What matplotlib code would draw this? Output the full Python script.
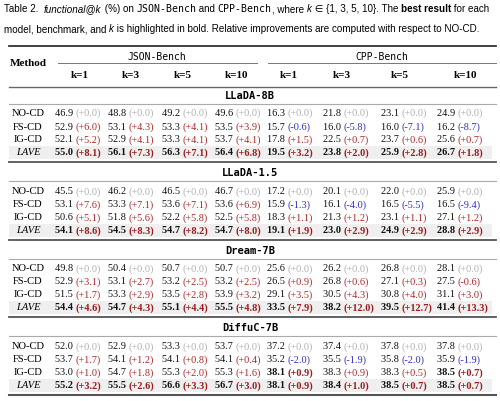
import matplotlib
matplotlib.use("Agg")
import matplotlib.pyplot as plt

# table values
models = ["LLaDA-8B", "LLaDA-1.5", "Dream-7B", "DiffuC-7B"]
methods = ["NO-CD", "FS-CD", "IG-CD", "LAVE"]
k_labels = ["k=1", "k=3", "k=5", "k=10", "k=1", "k=3", "k=5", "k=10"]

scores = {
    "LLaDA-8B": [[46.9, 48.8, 49.2, 49.6, 16.3, 21.8, 23.1, 24.9],
                 [52.9, 53.1, 53.3, 53.5, 15.7, 16.0, 16.0, 16.2],
                 [52.1, 52.9, 53.3, 53.7, 17.8, 22.5, 23.7, 25.6],
                 [55.0, 56.1, 56.3, 56.4, 19.5, 23.8, 25.9, 26.7]],
    "LLaDA-1.5": [[45.5, 46.2, 46.5, 46.7, 17.2, 20.1, 22.0, 25.9],
                  [53.1, 53.3, 53.6, 53.6, 15.9, 16.1, 16.5, 16.5],
                  [50.6, 51.8, 52.2, 52.5, 18.3, 21.3, 23.1, 27.1],
                  [54.1, 54.5, 54.7, 54.7, 19.1, 23.0, 24.9, 28.8]],
    "Dream-7B": [[49.8, 50.4, 50.7, 50.7, 25.6, 26.2, 26.8, 28.1],
                 [52.9, 53.1, 53.2, 53.2, 26.5, 26.8, 27.1, 27.5],
                 [51.5, 53.3, 53.5, 53.9, 29.1, 30.5, 30.8, 31.1],
                 [54.4, 54.7, 55.1, 55.5, 33.5, 38.2, 39.5, 41.4]],
    "DiffuC-7B": [[52.0, 52.9, 53.3, 53.7, 37.2, 37.4, 37.8, 37.8],
                  [53.7, 54.1, 54.1, 54.1, 35.2, 35.5, 35.8, 35.9],
                  [53.0, 54.7, 55.3, 55.3, 38.1, 38.3, 38.3, 38.5],
                  [55.2, 55.5, 56.6, 56.7, 38.1, 38.4, 38.5, 38.5]],
}
deltas = {
    "LLaDA-8B": [[0.0] * 8,
                 [6.0, 4.3, 4.1, 3.9, -0.6, -5.8, -7.1, -8.7],
                 [5.2, 4.1, 4.1, 4.1, 1.5, 0.7, 0.6, 0.7],
                 [8.1, 7.3, 7.1, 6.8, 3.2, 2.0, 2.8, 1.8]],
    "LLaDA-1.5": [[0.0] * 8,
                  [7.6, 7.1, 7.1, 6.9, -1.3, -4.0, -5.5, -9.4],
                  [5.1, 5.6, 5.8, 5.8, 1.1, 1.2, 1.1, 1.2],
                  [8.6, 8.3, 8.2, 8.0, 1.9, 2.9, 2.9, 2.9]],
    "Dream-7B": [[0.0] * 8,
                 [3.1, 2.7, 2.5, 2.5, 0.9, 0.6, 0.3, -0.6],
                 [1.7, 2.9, 2.8, 3.2, 3.5, 4.3, 4.0, 3.0],
                 [4.6, 4.3, 4.4, 4.8, 7.9, 12.0, 12.7, 13.3]],
    "DiffuC-7B": [[0.0] * 8,
                  [1.7, 1.2, 0.8, 0.4, -2.0, -1.9, -2.0, -1.9],
                  [1.0, 1.8, 2.0, 1.6, 0.9, 0.9, 0.5, 0.7],
                  [3.2, 2.6, 3.3, 3.0, 0.9, 1.0, 0.7, 0.7]],
}
# extra bold cells outside the LAVE rows (model, method index, column)
extra_bold = [("DiffuC-7B", 2, 4), ("DiffuC-7B", 2, 7)]

SERIF = "Liberation Serif"
MONO = "DejaVu Sans Mono"
RED = "#b02828"
DARKRED = "#9a1c1c"
GRAY = "#b0b0b0"
BLUE = "#3030c8"

fig = plt.figure(figsize=(5.0, 4.02), dpi=100)
ax = fig.add_axes([0, 0, 1, 1])
ax.set_xlim(0, 500)
ax.set_ylim(402, 0)
ax.axis("off")
renderer = fig.canvas.get_renderer()


def runs(x, y, pieces, size=7.2):
    # draw text pieces one after another on the same baseline
    for s, kw in pieces:
        t = ax.text(x, y, s, fontsize=size, va="center", ha="left", **kw)
        bb = t.get_window_extent(renderer)
        x += bb.width
    return x


cap = {"family": ["Liberation Sans", "DejaVu Sans"]}
runs(4, 9, [("Table 2.  ", cap), ("functional@k", dict(cap, style="italic")),
            (" (%) on ", cap), ("JSON-Bench", {"family": MONO}), (" and ", cap),
            ("CPP-Bench", {"family": MONO}), (", where ", cap), ("k", dict(cap, style="italic")),
            (" \u2208 {1, 3, 5, 10}. The ", cap), ("best result", dict(cap, weight="bold")),
            (" for each", cap)], size=7.1)
runs(4, 29, [("model, benchmark, and ", cap), ("k", dict(cap, style="italic")),
             (" is highlighted in bold. Relative improvements are computed with respect to NO-CD.", cap)],
     size=7.1)

x0, x1 = 9, 496
ax.plot([x0, x1], [47, 47], color="#333", lw=1.3)
ax.text(28, 63, "Method", family=SERIF, weight="bold", fontsize=8, ha="center", va="center")
ax.text(157, 57, "JSON-Bench", family=MONO, fontsize=7, ha="center", va="center")
ax.text(382, 57, "CPP-Bench", family=MONO, fontsize=7, ha="center", va="center")
ax.plot([58, 257], [64, 64], color="#777", lw=0.7)
ax.plot([268, x1], [64, 64], color="#777", lw=0.7)

num_x = [55, 108, 162, 215, 267, 323, 381, 437]
k_x = [80, 131, 183, 237, 289, 342, 400, 466]
for kx, lab in zip(k_x, k_labels):
    ax.text(kx, 76, lab, family=SERIF, weight="bold", fontsize=8, ha="center", va="center")
ax.plot([x0, x1], [88, 88], color="#666", lw=1.0)

title_y = [96, 173, 251, 328]
row_y = [[113, 127, 140, 153], [192, 205, 218, 231], [269, 282, 295, 308], [347, 360, 373, 386]]
sep_y = [163, 241, 318, 396]

for mi, model in enumerate(models):
    ty = title_y[mi]
    ax.text(250, ty, model, family=MONO, weight="bold", fontsize=7.5, ha="center", va="center")
    ax.plot([x0, x1], [ty + 8.5, ty + 8.5], color="#aaa", lw=0.8)
    for ri, meth in enumerate(methods):
        y = row_y[mi][ri]
        lave = meth == "LAVE"
        if lave:
            ax.fill_between([x0, x1 - 4], y - 6.5, y + 6.5, color="#efefef", lw=0)
        ax.text(28, y, meth, family=SERIF, fontsize=7.6, ha="center", va="center",
                style="italic" if lave else "normal")
        for ci in range(8):
            v = scores[model][ri][ci]
            d = deltas[model][ri][ci]
            bold = lave or (model, ri, ci) in extra_bold
            w = "bold" if bold else "normal"
            if ri == 0:
                col = GRAY
            elif d < 0 and not (model == "Dream-7B"):
                col = BLUE
            else:
                col = DARKRED if bold else RED
            runs(num_x[ci], y, [(f"{v:.1f} ", {"family": SERIF, "weight": w, "color": "#111"}),
                                (f"({d:+.1f})", {"family": SERIF, "weight": w, "color": col})],
                 size=7.4)
    lw = 1.3 if mi < 3 else 1.5
    ax.plot([x0, x1], [sep_y[mi], sep_y[mi]], color="#555", lw=lw)

fig.savefig("out.png", dpi=100)
